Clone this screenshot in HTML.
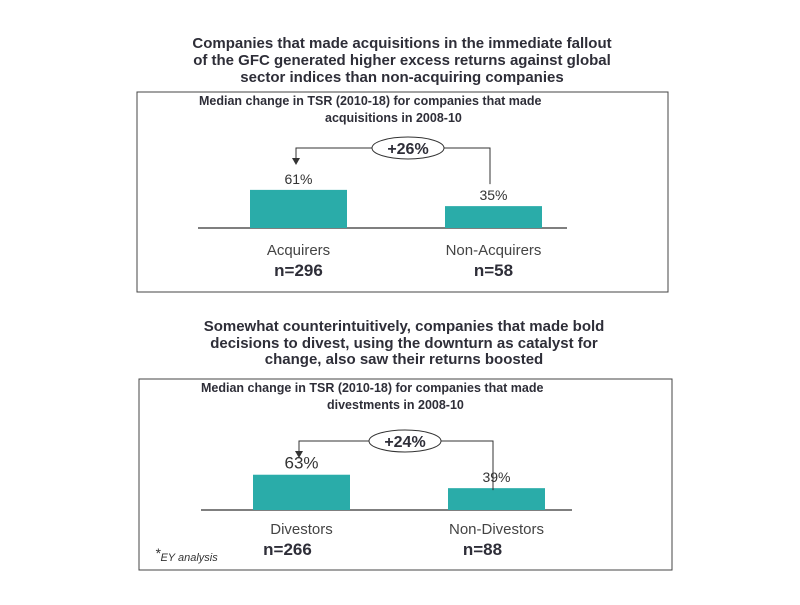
<!DOCTYPE html>
<html><head><meta charset="utf-8"><style>
body{margin:0;background:#fff;}
svg text{font-family:"Liberation Sans",sans-serif;}
</style></head><body>
<svg width="800" height="600" viewBox="0 0 800 600" xmlns="http://www.w3.org/2000/svg" id="root">
<g font-weight="bold" font-size="15" fill="#2e2e38" text-anchor="middle">
<text x="402" y="48">Companies that made acquisitions in the immediate fallout</text>
<text x="402" y="65">of the GFC generated higher excess returns against global</text>
<text x="402" y="82">sector indices than non-acquiring companies</text>
</g>
<g font-weight="bold" font-size="15" fill="#2e2e38" text-anchor="middle">
<text x="404" y="331">Somewhat counterintuitively, companies that made bold</text>
<text x="404" y="348">decisions to divest, using the downturn as catalyst for</text>
<text x="404" y="364">change, also saw their returns boosted</text>
</g>
<g id="charts"></g>
</svg>
<script>
const cats1 = ["Acquirers","Non-Acquirers"];
const vals1 = [61,35];
const ns1 = ["n=296","n=58"];
const diff1 = "+26%";
const cats2 = ["Divestors","Non-Divestors"];
const vals2 = [63,39];
const ns2 = ["n=266","n=88"];
const diff2 = "+24%";
const NS="http://www.w3.org/2000/svg";
function mk(tag,attrs,parent,text){const e=document.createElementNS(NS,tag);for(const k in attrs)e.setAttribute(k,attrs[k]);if(text!==undefined)e.textContent=text;parent.appendChild(e);return e;}
const root=document.getElementById('charts');
function panel(cfg,cats,vals,ns,diff,sub){
  const g=mk('g',{},root);
  
  
  const box=mk('rect',{x:cfg.bx,y:cfg.by,width:cfg.bw,height:cfg.bh,fill:'none',stroke:'#444','stroke-width':1},g);
  
  
  const t1=mk('text',{x:cfg.bx+62,y:cfg.by+13,'font-size':12.5,'font-weight':'bold',fill:'#2e2e38'},g,'Median change in TSR (2010-18) for companies that made');
  
  
  const t2=mk('text',{x:cfg.bx+188,y:cfg.by+30,'font-size':12.5,'font-weight':'bold',fill:'#2e2e38'},g,sub);
  
  
  const y=v=>cfg.base-v*cfg.k;
  const ax=mk('line',{x1:cfg.ax1,x2:cfg.ax2,y1:cfg.base,y2:cfg.base,stroke:'#333','stroke-width':1.3},g);
  
  
  const tops=[];
  vals.forEach((v,i)=>{
    const x=cfg.bars[i];
    const r=mk('rect',{x:x,y:y(v),width:97,height:cfg.base-y(v),fill:'#2aaca9'},g);
    
    
    tops.push(y(v));
    const lab=mk('text',{x:x+48.5,y:y(v)-6,'text-anchor':'middle','font-size':i===0&&cfg.bigFirst?17:14,fill:'#333'},g,v+'%');
    
    
    const c=mk('text',{x:x+48.5,y:cfg.base+cfg.catDy,'text-anchor':'middle','font-size':15,fill:'#444'},g,cats[i]);
    
    
    const n=mk('text',{x:x+48.5+cfg.nDx[i],y:cfg.base+cfg.nDy,'text-anchor':'middle','font-size':17,'font-weight':'bold',fill:'#2e2e38'},g,ns[i]);
    
    
  });
  const ly=cfg.ly, ax0=cfg.bars[0]+46, ax1=cfg.bars[1]+45;
  const conn=mk('path',{d:`M${ax1} ${tops[1]-cfg.rGap} V${ly} H${cfg.ex+36} M${cfg.ex-36} ${ly} H${ax0} V${ly+12}`,fill:'none',stroke:'#333','stroke-width':1},g);
  
  
  const ar=mk('path',{d:`M${ax0-4} ${ly+10} L${ax0+4} ${ly+10} L${ax0} ${ly+17} Z`,fill:'#333'},g);
  
  
  const el=mk('ellipse',{cx:cfg.ex,cy:ly,rx:36,ry:11,fill:'#fff',stroke:'#333','stroke-width':1},g);
  
  
  const dt=mk('text',{x:cfg.ex,y:ly+6,'text-anchor':'middle','font-size':16,'font-weight':'bold',fill:'#2e2e38'},g,diff);
  
  
}
panel({name:'acquisitions-chart',bx:137,by:92,bw:531,bh:200,base:228,k:0.625,ax1:198,ax2:567,bars:[250,445],ly:148,ex:408,rGap:22,catDy:27,nDy:48,nDx:[0,0],bigFirst:false},cats1,vals1,ns1,diff1,'acquisitions in 2008-10');
panel({name:'divestments-chart',bx:139,by:379,bw:533,bh:191,base:510,k:0.56,ax1:201,ax2:572,bars:[253,448],ly:441,ex:405,rGap:-2,catDy:24,nDy:45,nDx:[-14,-14],bigFirst:true},cats2,vals2,ns2,diff2,'divestments in 2008-10');
const fn=mk('text',{x:155,y:561,'font-size':11,'font-style':'italic',fill:'#333'},root);


mk('tspan',{'font-size':14,dy:-3},fn,'*');
mk('tspan',{dy:3},fn,'EY analysis');
</script>
</body></html>
